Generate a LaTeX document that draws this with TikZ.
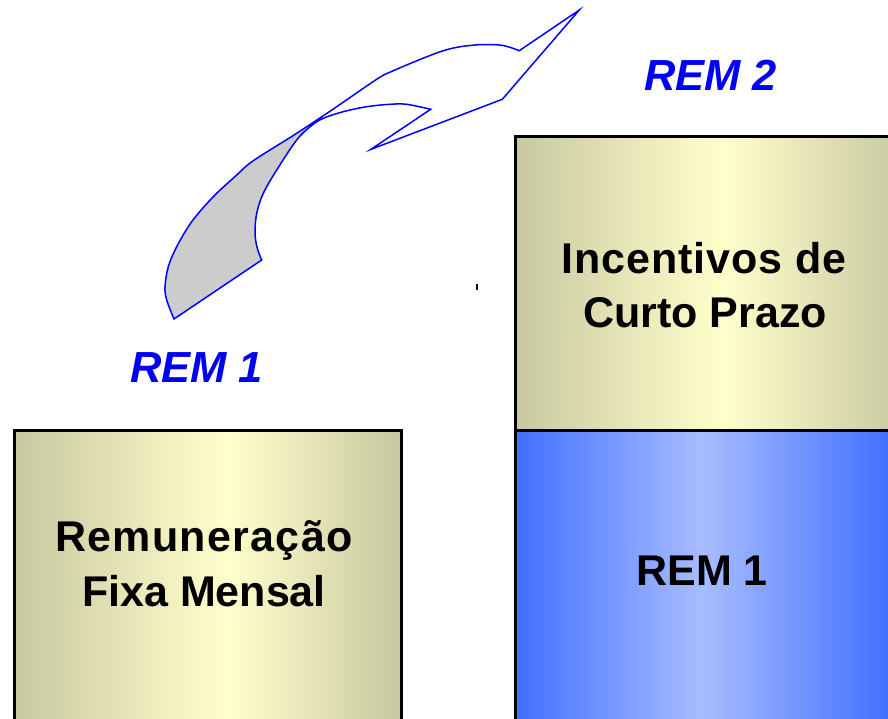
\documentclass[tikz,border=0pt]{standalone}
\usepackage{fontspec}
\setmainfont{Liberation Sans}
\definecolor{olivedge}{RGB}{200,200,160}
\definecolor{olivemid}{RGB}{255,255,204}
\definecolor{blueedge}{RGB}{64,112,255}
\definecolor{bluemid}{RGB}{168,188,255}
\definecolor{ribbongray}{RGB}{204,204,204}
\definecolor{labelblue}{RGB}{0,0,245}
\tikzset{
  boxtext/.style={anchor=base, inner sep=0pt, font=\fontsize{43}{52}\selectfont\bfseries, text=black},
  remlabel/.style={anchor=base, inner sep=0pt, font=\fontsize{43.5}{52}\selectfont\bfseries\itshape, text=labelblue},
  boxborder/.style={draw=black, line width=3pt},
  ribbon/.style={draw=blue, line width=1.5pt, line join=miter}
}
\newcommand\ribbonpath{plot[smooth, tension=0.55] coordinates {(174,319) (166.7,300) (165,286.7) (168.3,266.7) (176.7,246.7) (191.7,221.7) (213.3,196.7) (236.7,175) (253.3,160.7) (296.7,133.3) (336.7,106.7) (376.7,79.3) (393.3,70.7) (443.3,50.7) (475,45) (501.7,45.3) (519.3,50.7)} -- (579.3,10) -- (502.3,99.3) -- (371,149.3) -- plot[smooth, tension=0.55] coordinates {(430.7,109.3) (406.7,104.3) (390,104.3) (366.7,106.7) (343.3,111.7) (323.3,118.3) (311,126) (296.7,140) (276.7,170) (263.3,193.3) (256.7,213.3) (255,233.3) (257.3,248.3) (261.7,260)} -- cycle}
\begin{document}
\begin{tikzpicture}[x=1pt,y=-1pt]
\useasboundingbox (0,0) rectangle (888,718);
\clip (0,0) rectangle (888,718);
\fill[white] (0,0) rectangle (888,718);

% left box
\shade[left color=olivedge, right color=olivemid] (14.5,430) rectangle (227,740);
\shade[left color=olivemid, right color=olivedge] (227,430) rectangle (401,740);
\draw[boxborder] (14.5,430) rectangle (401,740);

% right upper box
\shade[left color=olivedge, right color=olivemid] (515.5,136.5) rectangle (723,430);
\shade[left color=olivemid, right color=olivedge] (723,136.5) rectangle (903,430);
% right lower box
\shade[left color=blueedge, right color=bluemid] (515.5,430) rectangle (702,740);
\shade[left color=bluemid, right color=blueedge] (702,430) rectangle (890,740);
\draw[boxborder] (903,136.5) -- (515.5,136.5) -- (515.5,740);
\draw[boxborder] (515.5,430) -- (903,430);

% texts
\node[boxtext] (fixa1) at (204,551) {\addfontfeatures{LetterSpace=3}Remuneração};
\node[boxtext] (fixa2) at (204,606) {Fixa Mensal};
\node[boxtext] (inc1) at (704,273) {\addfontfeatures{LetterSpace=2.3}Incentivos de};
\node[boxtext] (inc2) at (705,327) {Curto Prazo};
\node[boxtext] (rem1box) at (702,585) {REM 1};
\node[remlabel] (rem1) at (196.5,382) {REM 1};
\node[remlabel] (rem2) at (710.5,90) {REM 2};

% ribbon arrow
\begin{scope}
\clip (230,3) -- (400,264) -- (0,400) -- (0,3) -- cycle;
\fill[ribbongray] \ribbonpath;
\end{scope}
\draw[ribbon] \ribbonpath;

% stray tick
\fill[black] (475.7,284) rectangle (477.9,290);
\end{tikzpicture}
\end{document}
